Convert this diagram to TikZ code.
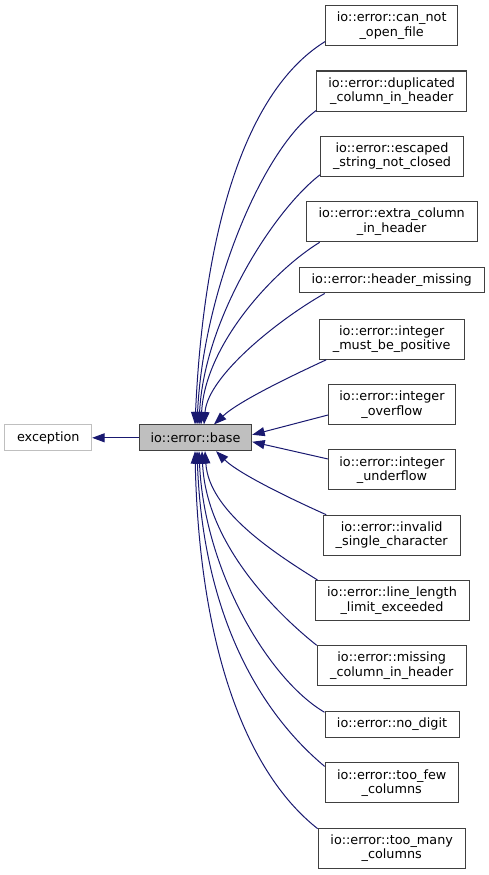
\documentclass[tikz,border=0pt]{standalone}
\usepackage{fontspec}
\setmainfont{DejaVu Sans}
\usetikzlibrary{arrows.meta}
\definecolor{edgeblue}{RGB}{25,25,112}
\definecolor{boxgray}{RGB}{64,64,64}
\definecolor{lightgrayb}{RGB}{191,191,191}
\begin{document}
\begin{tikzpicture}[x=1pt,y=-1pt,
  cls/.style={draw=boxgray, line width=1pt, fill=white, inner sep=0pt, align=center,
    font=\fontsize{12.8}{14.5}\selectfont, text=black, minimum height=40pt},
  one/.style={minimum height=25.5pt},
  edge/.style={draw=edgeblue, line width=1pt, -{Triangle[length=12.5pt,width=9pt]}}]
\useasboundingbox (0,0) rectangle (489,875);

\node[cls, fill=lightgrayb, minimum width=112.4pt, minimum height=25.7pt] (b) at (195.5,437.8) {io::error::base};
\node[cls, draw=lightgrayb, minimum width=86.7pt, minimum height=25.7pt] (ex) at (48.3,437.8) {exception};

\node[cls, minimum width=132pt] (c1) at (391.7,25.5) {io::error::can\_not\\\_open\_file};
\node[cls, minimum width=150pt] (c2) at (391.7,91) {io::error::duplicated\\\_column\_in\_header};
\node[cls, minimum width=143pt] (c3) at (392,156.3) {io::error::escaped\\\_string\_not\_closed};
\node[cls, minimum width=171pt] (c4) at (391.7,221.8) {io::error::extra\_column\\\_in\_header};
\node[cls, one, minimum width=185pt] (c5) at (391.7,280.2) {io::error::header\_missing};
\node[cls, minimum width=145pt] (c6) at (391.7,339.3) {io::error::integer\\\_must\_be\_positive};
\node[cls, minimum width=127pt] (c7) at (392,404.6) {io::error::integer\\\_overflow};
\node[cls, minimum width=127pt] (c8) at (392,469.9) {io::error::integer\\\_underflow};
\node[cls, minimum width=137pt] (c9) at (391.7,535.2) {io::error::invalid\\\_single\_character};
\node[cls, minimum width=154pt] (c10) at (392,600.5) {io::error::line\_length\\\_limit\_exceeded};
\node[cls, minimum width=149pt] (c11) at (391.7,665.8) {io::error::missing\\\_column\_in\_header};
\node[cls, one, minimum width=134pt] (c12) at (392,724.5) {io::error::no\_digit};
\node[cls, minimum width=133pt] (c13) at (391.7,782.9) {io::error::too\_few\\\_columns};
\node[cls, minimum width=147pt] (c14) at (391.7,848.2) {io::error::too\_many\\\_columns};

\draw[edge] (b.west) -- (ex.east);

\draw[edge] ([yshift=4.5pt]c1.south west) .. controls (240,94) and (203,245) .. ([xshift=-0.5pt]b.north);
\draw[edge] ([yshift=1pt]c2.south west) .. controls (260,152) and (203,295) .. ([xshift=1.5pt]b.north);
\draw[edge] ([yshift=2pt]c3.south west) .. controls (273,211) and (204,320) .. ([xshift=3.5pt]b.north);
\draw[edge] ([xshift=14pt]c4.south west) .. controls (273,271) and (205,345) .. ([xshift=5.5pt]b.north);
\draw[edge] ([xshift=26pt]c5.south west) .. controls (281,318) and (208,375) .. ([xshift=8.5pt]b.north);
\draw[edge] ([xshift=7.5pt]c6.south west) .. controls (300,372) and (240,400) .. ([xshift=18.5pt]b.north);
\draw[edge] ([yshift=-10.4pt]c7.west) -- ([yshift=3pt]b.east);
\draw[edge] ([yshift=10.9pt]c8.west) -- ([yshift=-4pt]b.east);
\draw[edge] ([xshift=3.5pt]c9.north west) .. controls (300,503) and (240,475) .. ([xshift=20.5pt]b.south);
\draw[edge] ([xshift=3pt]c10.north west) .. controls (271,551) and (209,510) .. ([xshift=9.5pt]b.south);
\draw[edge] (c11.north west) .. controls (270,608) and (206,540) .. ([xshift=6.5pt]b.south);
\draw[edge] ([yshift=-1pt]c12.north west) .. controls (268,679) and (204,570) .. ([xshift=3.5pt]b.south);
\draw[edge] ([yshift=-4pt]c13.north west) .. controls (263,715) and (203,620) .. ([xshift=1.5pt]b.south);
\draw[edge] ([yshift=-1pt]c14.north west) .. controls (243,770) and (199,640) .. ([xshift=-0.5pt]b.south);
\end{tikzpicture}
\end{document}
